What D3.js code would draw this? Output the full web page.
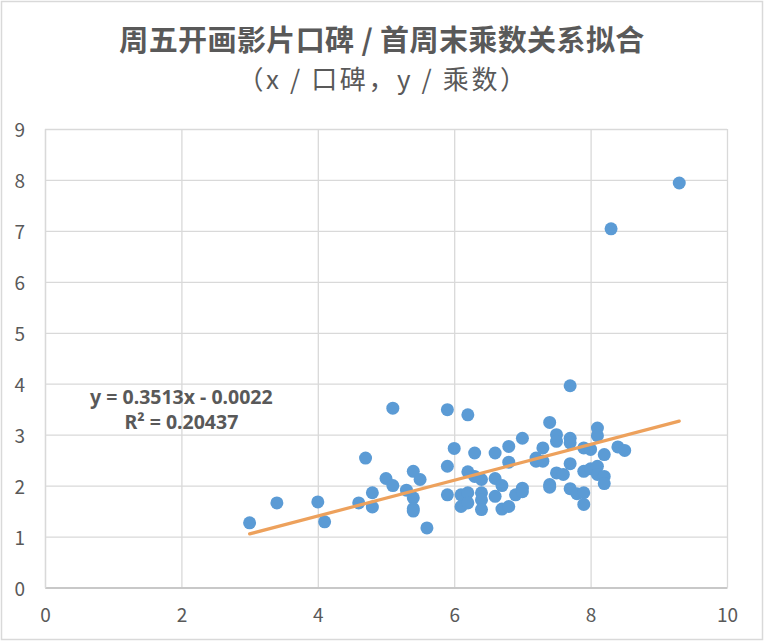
<!DOCTYPE html>
<html>
<head>
<meta charset="utf-8">
<script src="https://cdn.jsdelivr.net/npm/d3@7"></script>
<style>
  html, body { margin: 0; padding: 0; background: #fff; }
  svg { display: block; }
  text { font-family: "Noto Sans CJK SC", "Noto Sans", sans-serif; fill: #595959; }
</style>
</head>
<body>
<svg id="chart" width="764" height="641"></svg>
<script>
// 口碑 (x) and 首周末乘数 (y)
const scores = [
  3.0, 3.4, 4.0, 4.1, 4.6, 4.7, 4.8, 4.8, 5.0, 5.1, 5.1, 5.3, 5.4, 5.4, 5.4, 5.4,
  5.5, 5.6, 5.9, 5.9, 5.9, 6.0, 6.1, 6.1, 6.2, 6.2, 6.2, 6.2, 6.3, 6.3, 6.4, 6.4,
  6.4, 6.4, 6.6, 6.6, 6.6, 6.7, 6.7, 6.8, 6.8, 6.8, 6.9, 7.0, 7.0, 7.0, 7.2, 7.2,
  7.3, 7.3, 7.4, 7.4, 7.4, 7.5, 7.5, 7.5, 7.6, 7.7, 7.7, 7.7, 7.7, 7.7, 7.8, 7.9,
  7.9, 7.9, 7.9, 8.0, 8.0, 8.1, 8.1, 8.1, 8.1, 8.2, 8.2, 8.2, 8.3, 8.4, 8.5, 9.3
];
const multiples = [
  1.27, 1.66, 1.68, 1.29, 1.66, 2.54, 1.86, 1.58, 2.14, 2.00, 3.52, 1.91, 2.28, 1.76, 1.55, 1.50,
  2.12, 1.17, 3.49, 2.38, 1.82, 2.73, 1.82, 1.59, 3.39, 2.27, 1.86, 1.66, 2.64, 2.18, 2.12, 1.86,
  1.72, 1.53, 2.64, 2.14, 1.79, 2.00, 1.54, 2.77, 2.46, 1.59, 1.82, 2.93, 1.95, 1.88, 2.54, 2.48,
  2.74, 2.48, 3.24, 2.02, 1.97, 3.00, 2.87, 2.25, 2.22, 3.96, 2.93, 2.84, 2.43, 1.94, 1.84, 2.74,
  2.28, 1.86, 1.63, 2.71, 2.33, 3.13, 2.98, 2.38, 2.22, 2.61, 2.18, 2.04, 7.04, 2.76, 2.69, 7.94
];

const xTicks = [0, 2, 4, 6, 8, 10];
const yTicks = [0, 1, 2, 3, 4, 5, 6, 7, 8, 9];

// linear trendline as shown in the label
const trendSlope = 0.3513;
const trendIntercept = -0.0022;
const trendLabel = ["y = 0.3513x - 0.0022", "R² = 0.20437"];

const title = "周五开画影片口碑 / 首周末乘数关系拟合";
const subtitle = "（x / 口碑，y / 乘数）";

const width = 764, height = 641;
const margin = { top: 129, right: 37, bottom: 53.5, left: 45 };
const innerW = width - margin.left - margin.right;
const innerH = height - margin.top - margin.bottom;

const svg = d3.select("#chart");

// outer chart border
svg.append("rect")
  .attr("x", 1.5).attr("y", 1.5)
  .attr("width", width - 3).attr("height", height - 3)
  .attr("fill", "#fff")
  .attr("stroke", "#d9d9d9")
  .attr("stroke-width", 1.5);

svg.append("text")
  .attr("x", width / 2).attr("y", 51)
  .attr("text-anchor", "middle")
  .attr("font-size", 29)
  .attr("font-weight", "bold")
  .attr("letter-spacing", 0.4)
  .text(title);

svg.append("text")
  .attr("x", width / 2 + 1).attr("y", 89)
  .attr("text-anchor", "middle")
  .attr("font-size", 26)
  .attr("letter-spacing", 2.6)
  .text(subtitle);

const x = d3.scaleLinear().domain([0, 10]).range([0, innerW]);
const y = d3.scaleLinear().domain([0, 9]).range([innerH, 0]);

const g = svg.append("g")
  .attr("transform", `translate(${margin.left},${margin.top})`);

// gridlines
g.append("g")
  .attr("class", "gridX")
  .call(d3.axisBottom(x).tickValues(xTicks).tickFormat("").tickSize(innerH));
g.append("g")
  .attr("class", "gridY")
  .call(d3.axisLeft(y).tickValues(yTicks).tickFormat("").tickSize(-innerW));
g.selectAll(".gridX path, .gridY path").remove();
g.selectAll(".gridX line, .gridY line")
  .attr("stroke", "#d9d9d9")
  .attr("stroke-width", 1.3);

// axes with labels only
const xAxis = g.append("g")
  .attr("transform", `translate(0,${innerH})`)
  .call(d3.axisBottom(x).tickValues(xTicks).tickSize(0).tickPadding(21));
const yAxis = g.append("g")
  .call(d3.axisLeft(y).tickValues(yTicks).tickSize(0).tickPadding(20));
xAxis.select(".domain").attr("stroke", "#bfbfbf").attr("stroke-width", 1.3);
yAxis.select(".domain").attr("stroke", "#d9d9d9").attr("stroke-width", 1.3);
yAxis.selectAll(".tick text").attr("dy", "0.42em");
g.selectAll(".tick text")
  .attr("font-size", 19)
  .attr("fill", "#595959")
  .style("font-family", "\"Noto Sans CJK SC\", sans-serif");

// data points
g.selectAll("circle.pt")
  .data(d3.zip(scores, multiples))
  .enter()
  .append("circle")
  .attr("class", "pt")
  .attr("cx", d => x(d[0]))
  .attr("cy", d => y(d[1]))
  .attr("r", 6.5)
  .attr("fill", "#5b9bd5");

// trendline over the data range
const xr = d3.extent(scores);
const line = d3.line()
  .x(d => x(d))
  .y(d => y(trendSlope * d + trendIntercept));
g.append("path")
  .datum(xr)
  .attr("d", line)
  .attr("fill", "none")
  .attr("stroke", "#eda15c")
  .attr("stroke-width", 3.2)
  .attr("stroke-linecap", "round");

// equation label, one text per line
const labelY = [3.60, 3.12];
g.selectAll("text.eq")
  .data(trendLabel)
  .enter()
  .append("text")
  .attr("class", "eq")
  .attr("x", x(2.0))
  .attr("y", (d, i) => y(labelY[i]))
  .attr("text-anchor", "middle")
  .attr("font-size", 19.5)
  .attr("font-weight", "bold")
  .attr("fill", "#404040")
  .style("font-family", "\"Noto Sans\", sans-serif")
  .text(d => d);
</script>
</body>
</html>
